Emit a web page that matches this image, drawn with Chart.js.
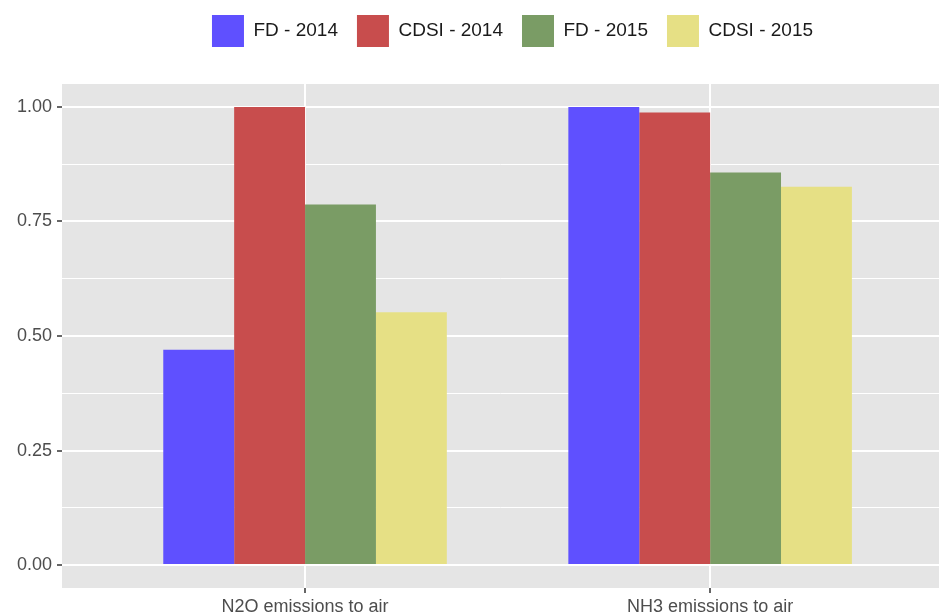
<!DOCTYPE html>
<html>
<head>
<meta charset="utf-8">
<script src="https://cdn.jsdelivr.net/npm/chart.js@4"></script>
<style>
  body { margin: 0; background: #ffffff; }
  #wrap { width: 939px; height: 615px; }
</style>
</head>
<body>
<div id="wrap"><canvas id="chart"></canvas></div>
<script>
const categories = ['N2O emissions to air', 'NH3 emissions to air'];
const categoryPositions = [1, 2];

const seriesNames = ['FD - 2014', 'CDSI - 2014', 'FD - 2015', 'CDSI - 2015'];
const fd2014 = [0.47, 1.00];
const cdsi2014 = [1.00, 0.988];
const fd2015 = [0.787, 0.857];
const cdsi2015 = [0.552, 0.826];
const seriesColors = ['#5F50FF', '#C84D4D', '#7A9C65', '#E6E085'];

const yTicks = [0, 0.25, 0.5, 0.75, 1];
const yTickLabels = ['0.00', '0.25', '0.50', '0.75', '1.00'];
const yMinorTicks = [0.125, 0.375, 0.625, 0.875];

const allSeries = [fd2014, cdsi2014, fd2015, cdsi2015];

// grey ggplot-style panel behind the grid
const panelBackground = {
    id: 'panelBackground',
    beforeDraw(chart) {
        const a = chart.chartArea;
        const ctx = chart.ctx;
        ctx.save();
        ctx.fillStyle = '#E5E5E5';
        ctx.fillRect(a.left, a.top, a.right - a.left, a.bottom - a.top);
        ctx.restore();
    }
};

// push the panel down from the legend, and centre the legend like ggplot does
const legendGap = {
    id: 'legendGap',
    beforeInit(chart) {
        const origFit = chart.legend.fit;
        chart.legend.fit = function () {
            origFit.bind(chart.legend)();
            this.height += 23;
        };
    },
    afterLayout(chart) {
        chart.legend.left += 12;
        chart.legend.right += 12;
        chart.legend.top -= 4;
        chart.legend.bottom -= 4;
    }
};

const ctx = document.getElementById('chart');
const chart = new Chart(ctx, {
    type: 'bar',
    data: {
        datasets: allSeries.map((values, i) => ({
            label: seriesNames[i],
            data: values.map((v, j) => ({ x: categoryPositions[j], y: v })),
            backgroundColor: seriesColors[i],
            borderWidth: 0,
            categoryPercentage: 0.7,
            barPercentage: 1.0
        }))
    },
    options: {
        responsive: true,
        maintainAspectRatio: false,
        animation: false,
        layout: { padding: { top: 0, left: 0, right: 0, bottom: 0 } },
        plugins: {
            legend: {
                position: 'top',
                fullSize: false,
                labels: {
                    boxWidth: 32,
                    boxHeight: 32,
                    padding: 19,
                    color: '#1A1A1A',
                    font: { family: 'Liberation Sans', size: 19 }
                }
            },
            tooltip: { enabled: false }
        },
        scales: {
            x: {
                type: 'linear',
                min: 0.4,
                max: 2.565,
                bounds: 'data',
                offset: false,
                afterBuildTicks: function (scale) {
                    scale.ticks = categoryPositions.map(v => ({ value: v }));
                },
                afterFit: function (scale) {
                    scale.height = 27;
                },
                ticks: {
                    autoSkip: false,
                    maxRotation: 0,
                    padding: 3,
                    color: '#4D4D4D',
                    font: { family: 'Liberation Sans', size: 18 },
                    callback: function (value, index) {
                        return categories[index];
                    }
                },
                grid: {
                    offset: false,
                    color: '#FFFFFF',
                    lineWidth: 2,
                    tickColor: '#333333',
                    tickWidth: 1.5,
                    tickLength: 5
                },
                border: { display: false }
            },
            y: {
                min: -0.05,
                max: 1.05,
                bounds: 'data',
                afterBuildTicks: function (scale) {
                    const vals = yTicks.concat(yMinorTicks).sort((a, b) => a - b);
                    scale.ticks = vals.map(v => ({ value: v }));
                },
                afterFit: function (scale) {
                    scale.width = 62;
                },
                ticks: {
                    autoSkip: false,
                    padding: 5,
                    color: '#4D4D4D',
                    font: { family: 'Liberation Sans', size: 18 },
                    callback: function (value) {
                        const k = yTicks.indexOf(value);
                        return k >= 0 ? yTickLabels[k] : '';
                    }
                },
                grid: {
                    color: '#FFFFFF',
                    lineWidth: c => yTicks.includes(c.tick.value) ? 2 : 1,
                    tickColor: c => yTicks.includes(c.tick.value) ? '#333333' : 'rgba(0,0,0,0)',
                    tickWidth: 1.5,
                    tickLength: 5
                },
                border: { display: false }
            }
        }
    },
    plugins: [panelBackground, legendGap]
});
</script>
</body>
</html>
